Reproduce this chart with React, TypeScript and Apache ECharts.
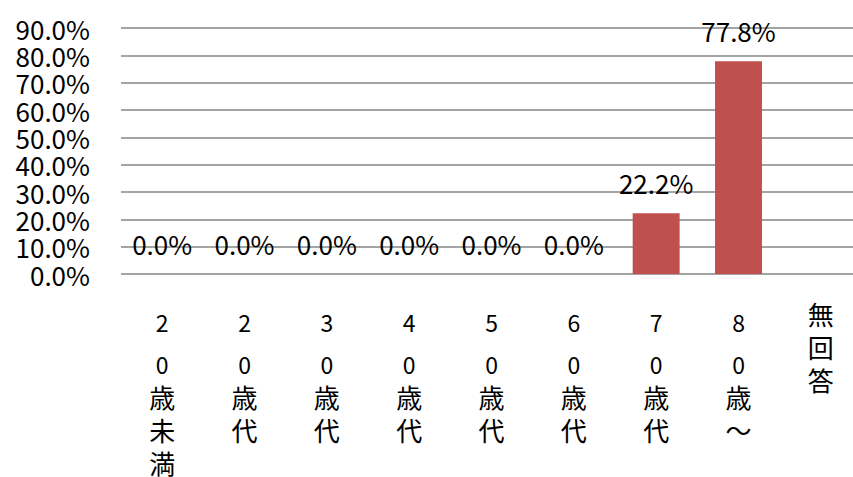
import React, { useEffect, useRef } from "react";
import * as echarts from "echarts";

const categories = ["20歳未満", "20歳代", "30歳代", "40歳代", "50歳代", "60歳代", "70歳代", "80歳～", "無回答"];
const values: (number | null)[] = [0, 0, 0, 0, 0, 0, 22.2, 77.8, null];
const yMin = 0;
const yMax = 90;
const yInterval = 10;

const FONT = "'Noto Sans CJK JP', 'Noto Sans', sans-serif";

export default function App() {
  const ref = useRef<HTMLDivElement>(null);
  useEffect(() => {
    if (!ref.current) return;
    const chart = echarts.init(ref.current, null, { renderer: "svg" });
    chart.setOption({
      animation: false,
      backgroundColor: "#ffffff",
      grid: { left: 121, right: 0, top: 28, bottom: 203, containLabel: false },
      xAxis: {
        type: "category",
        data: categories,
        axisLine: { show: false },
        axisTick: { show: false },
        axisLabel: {
          interval: 0,
          margin: 23,
          verticalAlign: "top",
          fontFamily: FONT,
          color: "#000",
          formatter: (v: string) =>
            v
              .split("")
              .map((ch, i) => {
                const d = /[0-9]/.test(ch);
                const s = d ? (i === 0 ? "a" : "b") : "c";
                return `{${s}|${ch}}`;
              })
              .join("\n"),
          rich: {
            a: { fontSize: 23, lineHeight: 50, fontFamily: FONT, color: "#000" },
            b: { fontSize: 23, lineHeight: 33, fontFamily: FONT, color: "#000" },
            c: { fontSize: 26, lineHeight: 33, fontFamily: FONT, color: "#000" },
          },
        },
      },
      yAxis: {
        type: "value",
        min: yMin,
        max: yMax,
        interval: yInterval,
        axisLine: { show: false },
        axisTick: { show: false },
        axisLabel: {
          margin: 31,
          fontSize: 26,
          fontFamily: FONT,
          color: "#000",
          formatter: (v: number) => v.toFixed(1) + "%",
        },
        splitLine: { lineStyle: { color: "#868686", width: 1.5 } },
      },
      series: [
        {
          type: "bar",
          data: values,
          barWidth: "57%",
          itemStyle: { color: "#C0504D" },
          label: {
            show: true,
            position: "top",
            distance: 18,
            fontSize: 26,
            fontFamily: FONT,
            color: "#000",
            formatter: (p: any) => (p.value == null ? "" : Number(p.value).toFixed(1) + "%"),
          },
        },
      ],
    });
    return () => chart.dispose();
  }, []);
  return (
    <div
      style={{ position: "absolute", left: 0, top: 0, width: 853, height: 477, overflow: "hidden" }}
    >
      <div ref={ref} style={{ position: "absolute", left: 0, top: 0, width: 862, height: 477 }} />
    </div>
  );
}
